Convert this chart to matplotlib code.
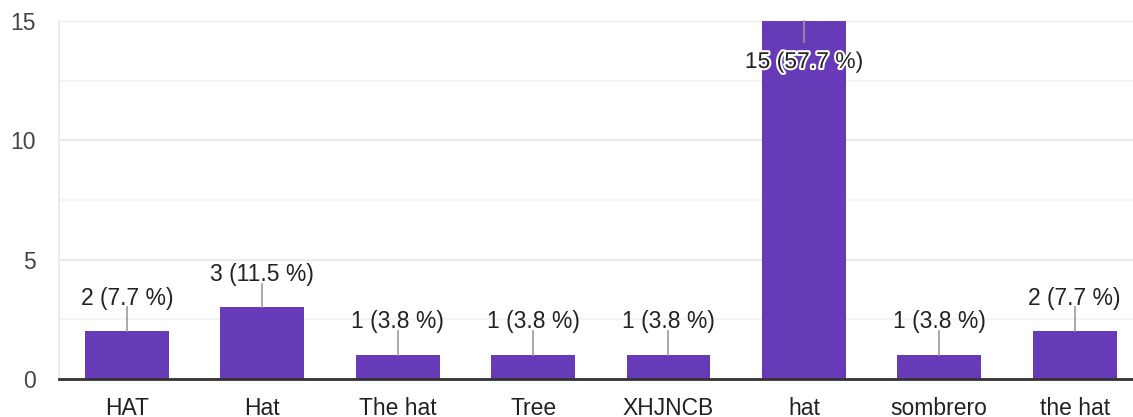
import matplotlib.pyplot as plt
import matplotlib.patheffects as pe

categories = ["HAT", "Hat", "The hat", "Tree", "XHJNCB", "hat", "sombrero", "the hat"]
counts = [2, 3, 1, 1, 1, 15, 1, 2]
percents = [7.7, 11.5, 3.8, 3.8, 3.8, 57.7, 3.8, 7.7]

plt.rcParams['font.family'] = ['Liberation Sans', 'DejaVu Sans']

fig = plt.figure(figsize=(11.33, 4.17), dpi=100)
ax = fig.add_axes([59.3 / 1133, 1 - 379 / 417, 1083 / 1133, (379 - 21) / 417])

x = list(range(len(categories)))
ax.bar(x, counts, width=0.62, color="#673ab7", zorder=3)

ax.set_xlim(-0.5, len(categories) - 0.5)
ax.set_ylim(0, 15)
ax.set_yticks([0, 5, 10, 15])
ax.set_yticks([2.5, 7.5, 12.5], minor=True)
ax.grid(axis='y', which='major', color="#ebebeb", linewidth=1.5, zorder=0)
ax.grid(axis='y', which='minor', color="#f4f4f4", linewidth=1.5, zorder=0)
ax.tick_params(axis='both', which='both', length=0, labelsize=16.5, labelcolor="#444444")
ax.tick_params(axis='y', pad=17)
ax.tick_params(axis='x', pad=13)
ax.set_xticks(x)
ax.set_xticklabels(categories, color="#222222")

for s in ["top", "right"]:
    ax.spines[s].set_visible(False)
ax.spines["left"].set_color("#ebebeb")
ax.spines["left"].set_linewidth(1.5)
ax.spines["bottom"].set_color("#333333")
ax.spines["bottom"].set_linewidth(2)
ax.spines["bottom"].set_zorder(4)

top = max(counts)
for xi, c, p in zip(x, counts, percents):
    label = f"{c} ({p} %)"
    if c == top:
        ax.plot([xi, xi], [c, c - 0.9], color="#999999", lw=1.2, zorder=4, clip_on=False)
        ax.text(xi, c - 1.97, label, ha='center', va='baseline', fontsize=16.5, color="#222222",
                zorder=5, path_effects=[pe.withStroke(linewidth=3, foreground="white")])
    else:
        ax.plot([xi, xi], [c, c + 1.0], color="#999999", lw=1.2, zorder=4)
        ax.text(xi, c + 1.12, label, ha='center', va='baseline', fontsize=16.5, color="#222222", zorder=5)

fig.savefig("out.png", dpi=100)
